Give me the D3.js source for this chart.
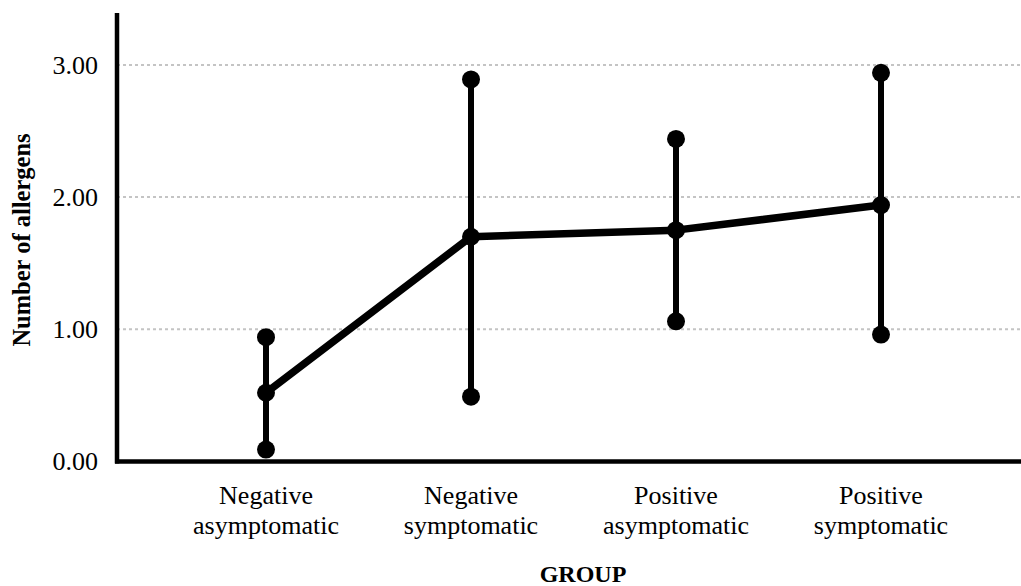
<!DOCTYPE html>
<html>
<head>
<meta charset="utf-8">
<script src="https://cdn.jsdelivr.net/npm/d3@7"></script>
<style>
  html, body { margin: 0; padding: 0; background: #fff; }
  svg { display: block; }
</style>
</head>
<body>
<div id="chart"></div>
<script>
// ---- data ----
const groups = ["Negative asymptomatic", "Negative symptomatic", "Positive asymptomatic", "Positive symptomatic"];
const groupLabels = [["Negative", "asymptomatic"], ["Negative", "symptomatic"], ["Positive", "asymptomatic"], ["Positive", "symptomatic"]];
const means = [0.52, 1.70, 1.75, 1.94];
const upper = [0.94, 2.89, 2.44, 2.94];
const lower = [0.09, 0.49, 1.06, 0.96];
const yTicks = [0, 1, 2, 3];
const yTitle = "Number of allergens";
const xTitle = "GROUP";

// ---- layout ----
const W = 1021, H = 586;
const axisX = 117, axisY = 461.5, topY = 13;
const firstX = 266, lastX = 881;

const svg = d3.select("#chart").append("svg").attr("width", W).attr("height", H);

const x = d3.scalePoint().domain(groups).range([firstX, lastX]);
const y = d3.scaleLinear().domain([0, 3]).range([axisY, 64.9]);

const serif = "'Liberation Serif', 'Times New Roman', serif";

// gridlines
svg.append("g").selectAll("line").data(yTicks.filter(d => d > 0)).join("line")
  .attr("x1", axisX).attr("x2", W)
  .attr("y1", d => y(d)).attr("y2", d => y(d))
  .attr("stroke", "#c4c4c4").attr("stroke-width", 2)
  .attr("stroke-dasharray", "3,3");

// y axis via d3.axisLeft (no tick lines)
const yAxis = svg.append("g").attr("transform", `translate(${axisX},0)`)
  .call(d3.axisLeft(y).tickValues(yTicks).tickFormat(d3.format(".2f")).tickSize(0).tickPadding(19));
yAxis.select(".domain").remove();
yAxis.selectAll("text").attr("font-family", serif).attr("font-size", 26).attr("fill", "#000");

// axis lines
svg.append("line").attr("x1", axisX).attr("x2", axisX).attr("y1", topY).attr("y2", axisY + 2)
  .attr("stroke", "#000").attr("stroke-width", 4.5);
svg.append("line").attr("x1", axisX - 2).attr("x2", W).attr("y1", axisY).attr("y2", axisY)
  .attr("stroke", "#000").attr("stroke-width", 4.5);

// whiskers
svg.append("g").selectAll("line").data(groups).join("line")
  .attr("x1", d => x(d)).attr("x2", d => x(d))
  .attr("y1", (d, i) => y(lower[i])).attr("y2", (d, i) => y(upper[i]))
  .attr("stroke", "#000").attr("stroke-width", 6);

// mean line
svg.append("path")
  .datum(groups.map((g, i) => [x(g), y(means[i])]))
  .attr("d", d3.line())
  .attr("fill", "none").attr("stroke", "#000").attr("stroke-width", 7.5)
  .attr("stroke-linejoin", "round");

// points
const pts = [];
groups.forEach((g, i) => { pts.push([g, upper[i]], [g, means[i]], [g, lower[i]]); });
svg.append("g").selectAll("circle").data(pts).join("circle")
  .attr("cx", d => x(d[0])).attr("cy", d => y(d[1])).attr("r", 9).attr("fill", "#000");

// x category labels
const xl = svg.append("g").selectAll("text").data(groups).join("text")
  .attr("x", d => x(d)).attr("y", 504)
  .attr("text-anchor", "middle").attr("font-family", serif).attr("font-size", 26).attr("fill", "#000");
xl.each(function(d, i) {
  const t = d3.select(this);
  groupLabels[i].forEach((line, j) => {
    t.append("tspan").attr("x", x(d)).attr("dy", j === 0 ? 0 : 30).text(line);
  });
});

// titles
svg.append("text").attr("x", 583).attr("y", 582)
  .attr("text-anchor", "middle").attr("font-family", serif).attr("font-weight", "bold")
  .attr("font-size", 24).text(xTitle);
svg.append("text").attr("transform", "translate(30,240) rotate(-90)")
  .attr("text-anchor", "middle").attr("font-family", serif).attr("font-weight", "bold")
  .attr("font-size", 24.5).text(yTitle);
</script>
</body>
</html>
